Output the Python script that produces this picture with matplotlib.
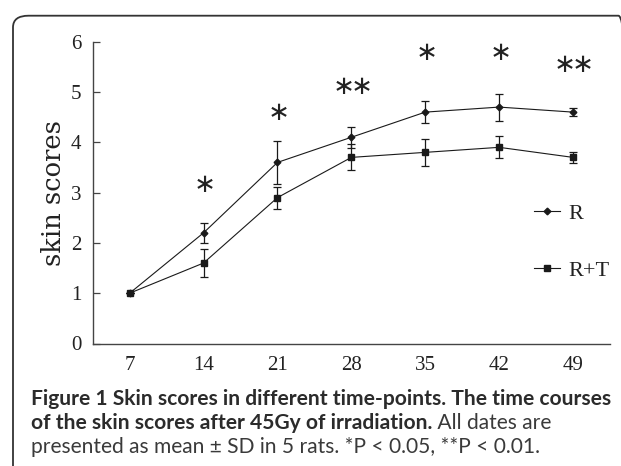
import matplotlib
matplotlib.use('Agg')
import matplotlib.pyplot as plt
from matplotlib.patches import FancyBboxPatch
import numpy as np

# data
days = [7, 14, 21, 28, 35, 42, 49]
r_mean = [1.0, 2.2, 3.6, 4.1, 4.6, 4.7, 4.6]
r_sd = [0.0, 0.2, 0.42, 0.21, 0.22, 0.27, 0.08]
rt_mean = [1.0, 1.6, 2.9, 3.7, 3.8, 3.9, 3.7]
rt_sd = [0.0, 0.27, 0.22, 0.26, 0.27, 0.22, 0.11]
star_labels = ['*', '*', '**', '*', '*', '**']
star_days = [14, 21, 28, 35, 42, 49]
star_y = [3.15, 4.58, 5.1, 5.78, 5.78, 5.54]

W, H = 621, 466
fig = plt.figure(figsize=(W / 100, H / 100), dpi=100)
fig.patch.set_facecolor('white')

# rounded frame, only top and left edge visible
frame = FancyBboxPatch((13 / W, -0.2), 1.0, 1.2 - 15.7 / H,
                       boxstyle='round,pad=0,rounding_size=0.025',
                       transform=fig.transFigure, facecolor='none',
                       edgecolor='#333333', linewidth=1.3, clip_on=False)
fig.patches.append(frame)

ax = fig.add_axes([92.7 / W, 1 - 343.5 / H, (610 - 92.7) / W, (343.5 - 41.7) / H])
ax.set_facecolor('none')

lc = '#1a1a1a'
ax.errorbar(days, r_mean, yerr=r_sd, fmt='none', ecolor=lc, elinewidth=0.9,
            capsize=2.6, capthick=0.9)
ax.errorbar(days, rt_mean, yerr=rt_sd, fmt='none', ecolor=lc, elinewidth=0.9,
            capsize=2.6, capthick=0.9)
ax.plot(days, r_mean, color=lc, linewidth=0.8, marker='D', markersize=3.4, label='R')
ax.plot(days, rt_mean, color=lc, linewidth=0.8, marker='s', markersize=4.6, label='R+T')

# significance stars (pairs pulled together with negative math space)
for d, s, yy in zip(star_days, star_labels, star_y):
    txt = r'$' + r'\!\!'.join([r'\ast'] * len(s)) + r'$'
    ax.text(d, yy, txt, ha='center', va='center', fontsize=19, color='#222222')

ax.set_xlim(3.5, 52.5)
ax.set_ylim(0, 6)
ax.set_xticks(days)
ax.set_yticks(range(7))
serif = 'Liberation Serif'
for lab in ax.get_xticklabels() + ax.get_yticklabels():
    lab.set_family(serif)
    lab.set_fontsize(15)
    lab.set_color('#222222')
ax.tick_params(axis='x', length=0, pad=9)
ax.tick_params(axis='y', direction='in', length=5, width=0.9, pad=8, color='#444444')
for side in ['top', 'right']:
    ax.spines[side].set_visible(False)
for side in ['left', 'bottom']:
    ax.spines[side].set_color('#444444')
    ax.spines[side].set_linewidth(1.0)

ax.set_ylabel('skin scores', family='DejaVu Serif', fontsize=18.5, color='#222222')
ax.yaxis.set_label_coords(-0.052, 0.5)

leg = ax.legend(loc='upper left', bbox_to_anchor=(0.853, 0.465), frameon=False,
                prop={'family': serif, 'size': 16}, handlelength=1.15,
                handletextpad=0.4, labelspacing=1.65, borderpad=0, borderaxespad=0)
for t in leg.get_texts():
    t.set_color('#222222')

# caption
cap_col = '#2b2b2b'
cap_font = 'Lato'
x0 = 31 / W
t1 = fig.text(x0, 1 - 405 / H, 'Figure 1 Skin scores in different time-points. The time courses',
              family=cap_font, weight='bold', fontsize=12, color=cap_col)
renderer = fig.canvas.get_renderer()
bb = t1.get_window_extent(renderer)
fs = 12 * 576 / bb.width
t1.set_fontsize(fs)
t2 = fig.text(x0, 1 - 429 / H, 'of the skin scores after 45Gy of irradiation.',
              family=cap_font, weight='bold', fontsize=fs, color=cap_col)
bb2 = t2.get_window_extent(renderer)
fig.text(bb2.x1 / W, 1 - 429 / H, ' All dates are', family=cap_font, weight='normal',
         fontsize=fs, color='#3a3a3a')
fig.text(x0, 1 - 453 / H, 'presented as mean \u00b1 SD in 5 rats. *P < 0.05, **P < 0.01.',
         family=cap_font, weight='normal', fontsize=fs, color='#3a3a3a')

fig.savefig('out.png', dpi=100)
